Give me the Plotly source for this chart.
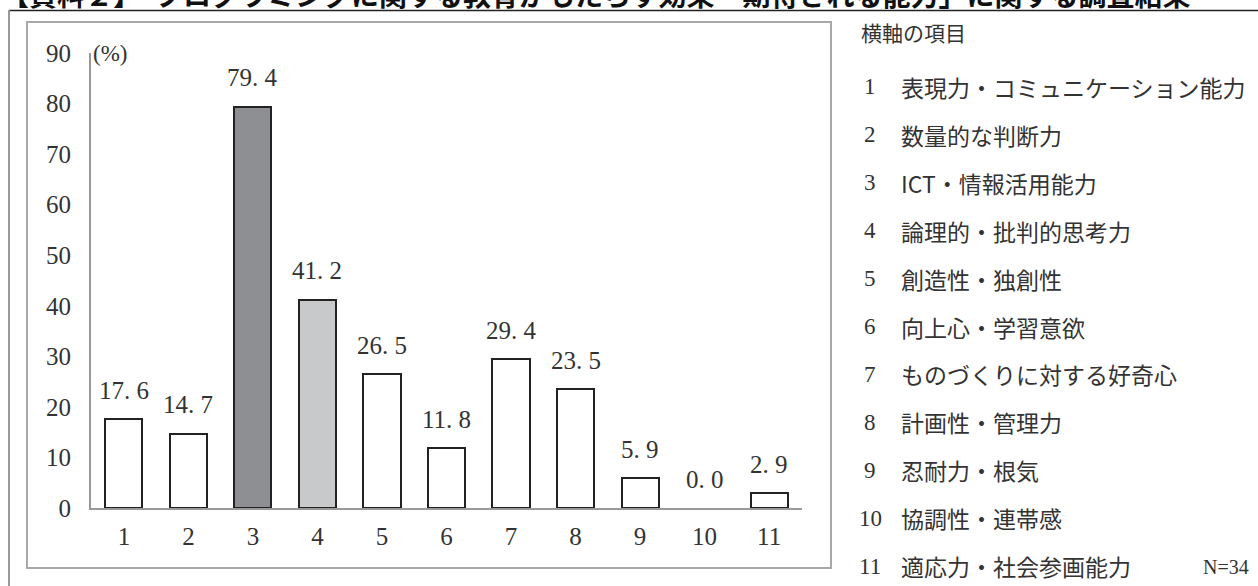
import plotly.graph_objects as go

categories = [1, 2, 3, 4, 5, 6, 7, 8, 9, 10, 11]
values = [17.6, 14.7, 79.4, 41.2, 26.5, 11.8, 29.4, 23.5, 5.9, 0.0, 2.9]
bar_colors = ["#ffffff", "#ffffff", "#8e8f93", "#c8c9cb", "#ffffff", "#ffffff",
              "#ffffff", "#ffffff", "#ffffff", "#ffffff", "#ffffff"]
item_labels = [
    "表現力・コミュニケーション能力",
    "数量的な判断力",
    "ICT・情報活用能力",
    "論理的・批判的思考力",
    "創造性・独創性",
    "向上心・学習意欲",
    "ものづくりに対する好奇心",
    "計画性・管理力",
    "忍耐力・根気",
    "協調性・連帯感",
    "適応力・社会参画能力",
]
title_text = "【資料２】　プログラミングに関する教育がもたらす効果「期待される能力」に関する調査結果"
legend_title = "横軸の項目"
n_text = "N=34"

W, H = 1258, 586
L, R, T, B = 91, 456, 53, 78
PW, PH = W - L - R, H - T - B


def fx(px):
    return (px - L) / PW


def fy(py):
    return (H - B - py) / PH


SERIF = "Liberation Serif, DejaVu Serif, serif"
JP = "Noto Sans CJK JP, sans-serif"
TXT = "#333333"

line_widths = [2 if v > 0 else 0 for v in values]

fig = go.Figure()
fig.add_trace(go.Bar(
    x=categories, y=values, width=0.575,
    marker=dict(color=bar_colors, line=dict(color="#222222", width=line_widths)),
    hoverinfo="skip", showlegend=False,
))

annotations = []
for c, v in zip(categories, values):
    annotations.append(dict(
        x=c, y=v, xref="x", yref="y", text=f"{v:.1f}".replace(".", ". "),
        showarrow=False, yanchor="middle", yshift=29,
        font=dict(family=SERIF, size=25, color=TXT),
    ))

annotations.append(dict(x=fx(91), y=fy(53), xref="paper", yref="paper", text="(%)",
                        showarrow=False, xanchor="left", yanchor="middle",
                        font=dict(family=SERIF, size=23, color=TXT)))

annotations.append(dict(x=fx(-1), y=fy(-6), xref="paper", yref="paper", text="<b>" + title_text + "</b>",
                        showarrow=False, xanchor="left", yanchor="middle",
                        font=dict(family=JP, size=28, color="#111111")))

annotations.append(dict(x=fx(859), y=fy(32), xref="paper", yref="paper", text=legend_title,
                        showarrow=False, xanchor="left", yanchor="middle",
                        font=dict(family=JP, size=21, color=TXT)))

for i, lab in enumerate(item_labels):
    py = 87 + 47.9 * i
    annotations.append(dict(x=fx(870), y=fy(py), xref="paper", yref="paper", text=str(categories[i]),
                            showarrow=False, xanchor="center", yanchor="middle",
                            font=dict(family=SERIF, size=23, color=TXT)))
    annotations.append(dict(x=fx(899), y=fy(py), xref="paper", yref="paper", text=lab,
                            showarrow=False, xanchor="left", yanchor="middle",
                            font=dict(family=JP, size=23, color=TXT)))

annotations.append(dict(x=fx(1251), y=fy(567), xref="paper", yref="paper", text=n_text,
                        showarrow=False, xanchor="right", yanchor="middle",
                        font=dict(family=SERIF, size=20, color=TXT)))

shapes = [
    dict(type="line", xref="paper", yref="paper", x0=fx(9), x1=fx(1258), y0=fy(10.5), y1=fy(10.5),
         line=dict(color="#222222", width=1.5)),
    dict(type="line", xref="paper", yref="paper", x0=fx(9), x1=fx(9), y0=fy(10), y1=fy(590),
         line=dict(color="#999999", width=2)),
    dict(type="rect", xref="paper", yref="paper", x0=fx(27), x1=fx(831), y0=fy(568), y1=fy(22),
         line=dict(color="#a8a8a8", width=2), fillcolor="rgba(0,0,0,0)", layer="below"),
]

fig.update_layout(
    width=W, height=H,
    margin=dict(l=L, r=R, t=T, b=B, pad=0),
    paper_bgcolor="white", plot_bgcolor="white",
    annotations=annotations, shapes=shapes,
    bargap=0,
    xaxis=dict(range=[0.49, 11.51], tickvals=categories, ticktext=[str(c) for c in categories],
               showline=True, linecolor="#999999", linewidth=2, showgrid=False, zeroline=False,
               ticks="", ticklabelstandoff=5,
               tickfont=dict(family=SERIF, size=25, color=TXT), fixedrange=True),
    yaxis=dict(range=[0, 90], dtick=10, tick0=0,
               showline=True, linecolor="#999999", linewidth=2, showgrid=False, zeroline=False,
               ticks="", ticklabelstandoff=13,
               tickfont=dict(family=SERIF, size=25, color=TXT), fixedrange=True),
)

fig.write_html("out.html", config={"displayModeBar": False},
               post_script="document.body.style.margin='0';document.body.style.overflow='hidden';")
